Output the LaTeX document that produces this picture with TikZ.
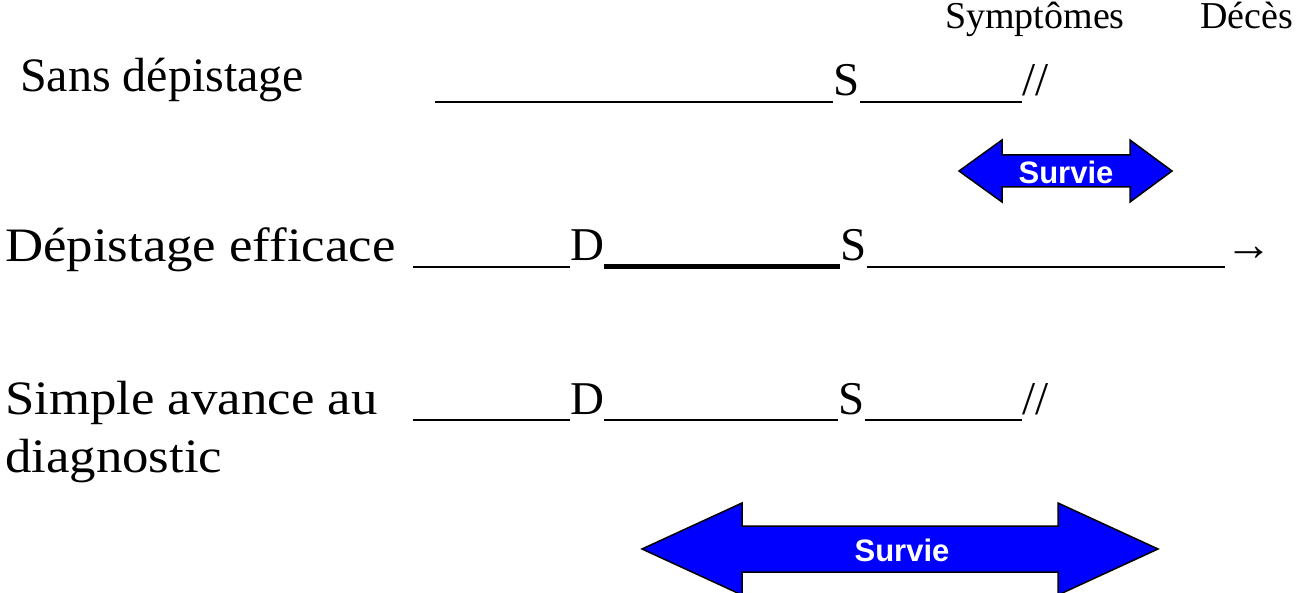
\documentclass[tikz,border=0pt]{standalone}
\usepackage{fontspec}
\setmainfont{Liberation Serif}
\newfontfamily\widefont[FakeStretch=1.1]{Liberation Serif}
\newfontfamily\survfont{Liberation Sans}
\usetikzlibrary{positioning,calc}
\definecolor{survblue}{RGB}{0,0,255}
\tikzset{lbl/.style={anchor=base west,inner sep=0pt,font=\widefont\fontsize{48}{57}\selectfont}  }
\tikzset{evt/.style={anchor=base west,inner sep=0pt,font=\fontsize{47}{57}\selectfont}  }
\tikzset{top/.style={anchor=base west,inner sep=0pt,font=\fontsize{38}{40}\selectfont}  }
\tikzset{tl/.style={line width=2.7pt}  }
\tikzset{tlbold/.style={line width=5pt}  }
\tikzset{survie/.style={draw=black,line width=1.5pt,fill=survblue,line join=miter}  }
\tikzset{survtxt/.style={text=white,inner sep=0pt,font=\survfont\bfseries\fontsize{31}{36}\selectfont}  }

\begin{document}
\begin{tikzpicture}[x=1pt,y=-1pt]
	\useasboundingbox (0,0) rectangle (1304,593);
		\node[top] (symp) at (945,29) {Symptômes};
		\node[top] (deces) at (1200,29) {Décès};
	% sans depistage
		\node[evt,font=\fontsize{48}{57}\selectfont] (l1) at (20,92) {Sans dépistage};
		\coordinate (r1) at (435,102);
		\node[evt] (S1) at (833,96) {S};
		\node[evt] (E1) at (1022,96) {//};
	\draw[tl] (r1) -- (r1 -| S1.west);
	\draw[tl] (r1 -| S1.east) -- (r1 -| E1.west);
	% depistage efficace
		\node[lbl] (l2) at (5,262) {Dépistage efficace};
		\coordinate (r2) at (413,267);
		\node[evt] (D2) at (570,261) {D};
		\node[evt] (S2) at (840,261) {S};
		\node[evt] (A2) at (1225,261) {→};
	\draw[tl] (r2) -- (r2 -| D2.west);
	\draw[tlbold] (r2 -| D2.east) -- (r2 -| S2.west);
	\draw[tl] (r2 -| S2.east) -- (r2 -| A2.west);
	% simple avance
		\node[lbl] (l3) at (5,414) {Simple avance au};
		\node[lbl] (l3b) at (5,472) {diagnostic};
		\coordinate (r3) at (413,420);
		\node[evt] (D3) at (570,414) {D};
		\node[evt] (S3) at (838,414) {S};
		\node[evt] (E3) at (1022,414) {//};
	\draw[tl] (r3) -- (r3 -| D3.west);
	\draw[tl] (r3 -| D3.east) -- (r3 -| S3.west);
	\draw[tl] (r3 -| S3.east) -- (r3 -| E3.west);
	% survie arrows
	\draw[survie] (959,171) -- (1002,140) -- (1002,155) -- (1130,155) -- (1130,140) -- (1172,171)
		-- (1130,202) -- (1130,187) -- (1002,187) -- (1002,202) -- cycle;
		\node[survtxt] (surv1) at (1066,172) {Survie};
	\draw[survie] (642,549) -- (742,503) -- (742,526) -- (1058,526) -- (1058,503) -- (1158,549)
		-- (1058,595) -- (1058,572) -- (742,572) -- (742,595) -- cycle;
		\node[survtxt] (surv2) at (902,550) {Survie};
\end{tikzpicture}
\end{document}
